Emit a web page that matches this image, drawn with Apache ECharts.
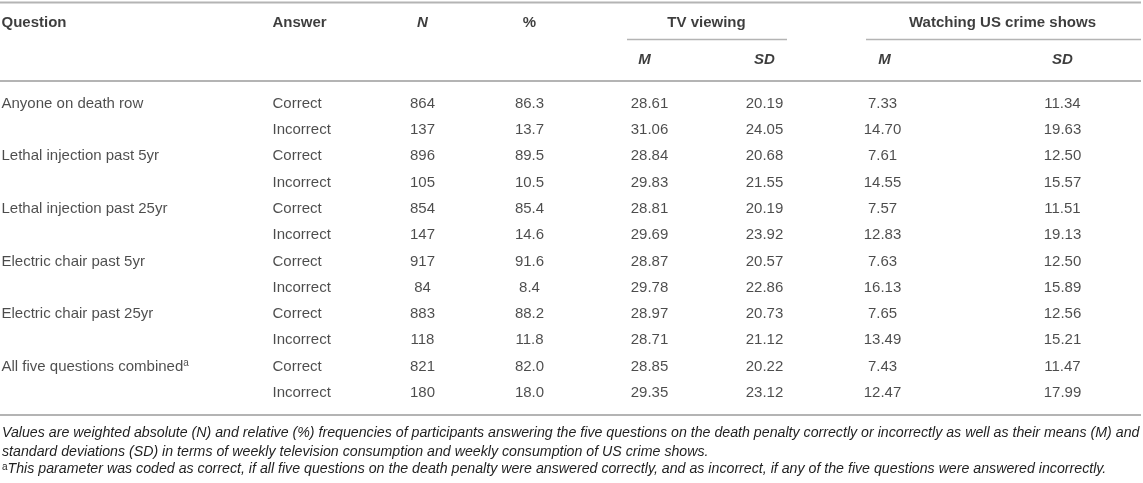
<!DOCTYPE html>
<html>
<head>
<meta charset="utf-8">
<script src="https://cdn.jsdelivr.net/npm/echarts@6/dist/echarts.min.js"></script>
<style>
html,body{margin:0;padding:0;background:#fff;}
#chart{width:1143px;height:483px;}
</style>
</head>
<body>
<div id="chart"></div>
<script>
// ---------- data ----------
const questions = ["Anyone on death row", null, "Lethal injection past 5yr", null, "Lethal injection past 25yr", null,
  "Electric chair past 5yr", null, "Electric chair past 25yr", null, "All five questions combined", null];
const questionMarks = ["", "", "", "", "", "", "", "", "", "", "a", ""];
const answers = ["Correct", "Incorrect", "Correct", "Incorrect", "Correct", "Incorrect",
  "Correct", "Incorrect", "Correct", "Incorrect", "Correct", "Incorrect"];
const nValues = [864, 137, 896, 105, 854, 147, 917, 84, 883, 118, 821, 180];
const pctValues = [86.3, 13.7, 89.5, 10.5, 85.4, 14.6, 91.6, 8.4, 88.2, 11.8, 82.0, 18.0];
const tvM = [28.61, 31.06, 28.84, 29.83, 28.81, 29.69, 28.87, 29.78, 28.97, 28.71, 28.85, 29.35];
const tvSD = [20.19, 24.05, 20.68, 21.55, 20.19, 23.92, 20.57, 22.86, 20.73, 21.12, 20.22, 23.12];
const crimeM = [7.33, 14.70, 7.61, 14.55, 7.57, 12.83, 7.63, 16.13, 7.65, 13.49, 7.43, 12.47];
const crimeSD = [11.34, 19.63, 12.50, 15.57, 11.51, 19.13, 12.50, 15.89, 12.56, 15.21, 11.47, 17.99];

const headerTop = ["Question", "Answer", "N", "%", "TV viewing", "Watching US crime shows"];
const headerSub = ["M", "SD", "M", "SD"];
const footnotes = [
  "Values are weighted absolute (N) and relative (%) frequencies of participants answering the five questions on the death penalty correctly or incorrectly as well as their means (M) and",
  "standard deviations (SD) in terms of weekly television consumption and weekly consumption of US crime shows.",
  "This parameter was coded as correct, if all five questions on the death penalty were answered correctly, and as incorrect, if any of the five questions were answered incorrectly."
];

// ---------- layout ----------
const W = 1143;
const X = {question: 2, answer: 273, n: 423, pct: 530, tvM: 650, tvSD: 765, crM: 883, crSD: 1063, tv: 707, crime: 1003};
const FONT = '"Liberation Sans", Arial, Helvetica, sans-serif';
const BODY = '#1f1f1f';
const HEAD = '#0d0d0d';
const RULE = '#b4b4b4';

const rowIdx = answers.map((_, i) => String(i));

function cellSeries(name, x, texts, opts) {
  opts = opts || {};
  return {
    type: 'scatter', name: name,
    xAxisIndex: opts.grid || 0, yAxisIndex: opts.grid || 0,
    symbolSize: 1, itemStyle: {color: 'rgba(0,0,0,0)'},
    silent: true, animation: false,
    emphasis: {disabled: true},
    data: texts.map((t, i) => t == null ? null : {value: [x, i], text: t, mark: opts.marks ? opts.marks[i] : ''}),
    label: {
      show: true, position: [0, 0],
      align: opts.align || 'center', verticalAlign: 'middle',
      fontFamily: FONT, fontSize: 15,
      fontWeight: opts.bold ? 'bold' : 'normal',
      fontStyle: opts.italic ? 'italic' : 'normal',
      color: opts.bold ? HEAD : BODY,
      formatter: p => p.data.mark ? p.data.text + '{sup|' + p.data.mark + '}' : p.data.text,
      rich: {sup: {fontSize: 10, verticalAlign: 'top', lineHeight: 16, fontFamily: FONT, color: BODY}}
    }
  };
}

const fmt = (arr, d) => arr.map(v => v.toFixed(d));

const option = {
  backgroundColor: '#fff',
  animation: false,
  grid: [
    {left: 0, right: 0, top: 91, height: 315.6, containLabel: false},
    {left: 0, right: 0, top: 4.5, height: 75, containLabel: false}
  ],
  xAxis: [
    {type: 'value', min: 0, max: W, show: false, gridIndex: 0},
    {type: 'value', min: 0, max: W, show: false, gridIndex: 1}
  ],
  yAxis: [
    {type: 'category', data: rowIdx, inverse: true, show: false, gridIndex: 0},
    {type: 'category', data: ['top', 'sub'], inverse: true, show: false, gridIndex: 1}
  ],
  series: [
    cellSeries('question', X.question, questions, {align: 'left', marks: questionMarks}),
    cellSeries('answer', X.answer, answers, {align: 'left'}),
    cellSeries('N', X.n, nValues.map(String)),
    cellSeries('pct', X.pct, fmt(pctValues, 1)),
    cellSeries('tvM', X.tvM, fmt(tvM, 2)),
    cellSeries('tvSD', X.tvSD, fmt(tvSD, 2)),
    cellSeries('crM', X.crM, fmt(crimeM, 2)),
    cellSeries('crSD', X.crSD, fmt(crimeSD, 2)),
    // header row 1
    cellSeries('hQ', X.question, [headerTop[0]], {grid: 1, align: 'left', bold: true}),
    cellSeries('hA', X.answer, [headerTop[1]], {grid: 1, align: 'left', bold: true}),
    cellSeries('hN', X.n, [headerTop[2]], {grid: 1, bold: true, italic: true}),
    cellSeries('hP', X.pct, [headerTop[3]], {grid: 1, bold: true}),
    cellSeries('hTV', X.tv, [headerTop[4]], {grid: 1, bold: true}),
    cellSeries('hCR', X.crime, [headerTop[5]], {grid: 1, bold: true}),
    // header row 2
    cellSeries('hTVM', X.tvM - 5, [null, headerSub[0]], {grid: 1, bold: true, italic: true}),
    cellSeries('hTVSD', X.tvSD, [null, headerSub[1]], {grid: 1, bold: true, italic: true}),
    cellSeries('hCRM', X.crM + 2, [null, headerSub[2]], {grid: 1, bold: true, italic: true}),
    cellSeries('hCRSD', X.crSD, [null, headerSub[3]], {grid: 1, bold: true, italic: true})
  ],
  graphic: [
    {type: 'line', shape: {x1: 0, y1: 2.5, x2: 1141, y2: 2.5}, style: {stroke: RULE, lineWidth: 2}, silent: true},
    {type: 'line', shape: {x1: 627, y1: 39.5, x2: 787, y2: 39.5}, style: {stroke: RULE, lineWidth: 1.5}, silent: true},
    {type: 'line', shape: {x1: 866, y1: 39.5, x2: 1141, y2: 39.5}, style: {stroke: RULE, lineWidth: 1.5}, silent: true},
    {type: 'line', shape: {x1: 0, y1: 81, x2: 1141, y2: 81}, style: {stroke: RULE, lineWidth: 2}, silent: true},
    {type: 'line', shape: {x1: 0, y1: 415, x2: 1141, y2: 415}, style: {stroke: RULE, lineWidth: 2}, silent: true},
    {type: 'text', left: 2, top: 426, silent: true,
      style: {text: footnotes[0], font: 'italic 14.2px ' + FONT, fill: BODY}},
    {type: 'text', left: 2, top: 445, silent: true,
      style: {text: footnotes[1], font: 'italic 14.2px ' + FONT, fill: BODY}},
    {type: 'text', left: 2, top: 462, silent: true,
      style: {text: '{sup|a}' + footnotes[2], font: 'italic 14.2px ' + FONT, fill: BODY,
        rich: {sup: {fontSize: 10, verticalAlign: 'top', lineHeight: 15, fontFamily: FONT, fontStyle: 'normal', fill: BODY}}}}
  ]
};

const chart = echarts.init(document.getElementById('chart'), null, {renderer: 'canvas'});
chart.setOption(option);
</script>
</body>
</html>
